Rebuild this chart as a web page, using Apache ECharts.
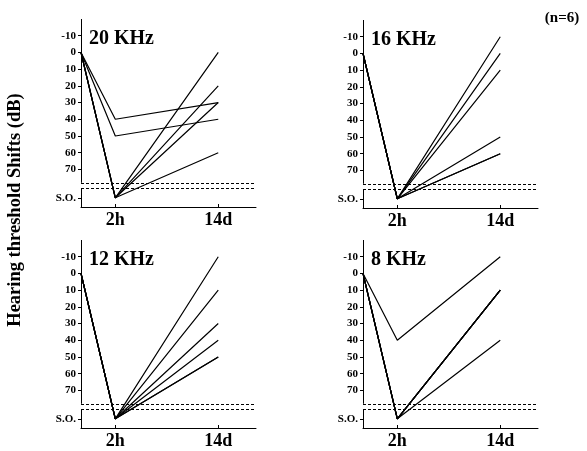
<!DOCTYPE html>
<html lang="en">
<head>
<meta charset="UTF-8">
<title>Hearing threshold shifts</title>
<script src="https://cdn.jsdelivr.net/npm/echarts@6/dist/echarts.min.js"></script>
<style>
  html, body { margin: 0; padding: 0; background: #fff; }
  #chart { width: 587px; height: 451px; }
</style>
</head>
<body>
<div id="chart"></div>
<script>
// S.O. = value used for "scale out" (off the scale)
var SO = 87;

var panelTitles = ['20 KHz', '16 KHz', '12 KHz', '8 KHz'];

// x positions of the three time points: before, 2h, 14d
var timePoints = [0, 1, 4];
var xTickValues = [1, 4];
var xTickLabels = ['2h', '14d'];

var yTickValues = [-10, 0, 10, 20, 30, 40, 50, 60, 70, SO];
var yTickLabels = ['-10', '0', '10', '20', '30', '40', '50', '60', '70', 'S.O.'];

// dashed break lines
var breakLines = [78, 81.5];

// per panel: value before, at 2h and at 14d for the 6 animals
var before = [0, 0, 0, 0, 0, 0];
var at2h_20 = [40, 50, SO, SO, SO, SO];
var at14d_20 = [30, 40, 0, 20, 30, 60];
var at2h_16 = [SO, SO, SO, SO, SO, SO];
var at14d_16 = [-10, 0, 10, 50, 60, 60];
var at2h_12 = [SO, SO, SO, SO, SO, SO];
var at14d_12 = [-10, 10, 30, 40, 50, 50];
var at2h_8 = [40, SO, SO, SO, SO, SO];
var at14d_8 = [-10, 10, 10, 10, 10, 40];

var panel2h = [at2h_20, at2h_16, at2h_12, at2h_8];
var panel14d = [at14d_20, at14d_16, at14d_12, at14d_8];

var FONT = '"Liberation Serif", "Times New Roman", serif';
var grids = [
    { left: 81, top: 19, width: 175, height: 188 },
    { left: 363, top: 20, width: 175, height: 188 },
    { left: 81, top: 240, width: 175, height: 188 },
    { left: 363, top: 240, width: 175, height: 188 }
];

var xAxes = [], yAxes = [], series = [], titles = [];

grids.forEach(function (g, i) {
    xAxes.push({
        type: 'value', gridIndex: i, min: 0, max: 5.1, position: 'bottom',
        splitLine: { show: false },
        axisLine: { onZero: false, lineStyle: { color: '#000', width: 1 } },
        axisTick: { customValues: xTickValues, inside: true, length: 3, lineStyle: { color: '#000' } },
        axisLabel: {
            customValues: xTickValues,
            formatter: function (v) { return xTickLabels[xTickValues.indexOf(v)]; },
            color: '#000', fontFamily: FONT, fontSize: 18, fontWeight: 'bold', margin: 4
        }
    });
    yAxes.push({
        type: 'value', gridIndex: i, inverse: true, min: -20, max: 92.5,
        splitLine: { show: false },
        axisLine: { show: false },
        axisTick: { customValues: yTickValues, length: 3, lineStyle: { color: '#000' } },
        axisLabel: {
            customValues: yTickValues,
            formatter: function (v) { return yTickLabels[yTickValues.indexOf(v)]; },
            color: '#000', fontFamily: FONT, fontSize: 11, fontWeight: 'bold', margin: 5
        }
    });
    titles.push({
        text: panelTitles[i], left: g.left + 3, top: g.top + 5,
        textStyle: { fontFamily: FONT, fontSize: 20, fontWeight: 'bold', color: '#000' }
    });

    for (var k = 0; k < 6; k++) {
        var s = {
            type: 'line', xAxisIndex: i, yAxisIndex: i,
            data: [
                [timePoints[0], before[k]],
                [timePoints[1], panel2h[i][k]],
                [timePoints[2], panel14d[i][k]]
            ],
            symbol: 'none', silent: true,
            lineStyle: { color: '#000', width: 1.2 }
        };
        if (k === 0) {
            s.markLine = {
                symbol: 'none', silent: true, label: { show: false },
                data: [
                    { yAxis: breakLines[0], lineStyle: { type: [3, 2], color: '#000', width: 1 } },
                    { yAxis: breakLines[1], lineStyle: { type: [3, 2], color: '#000', width: 1 } },
                    [{ coord: [0, -20] }, { coord: [0, breakLines[0]], lineStyle: { type: 'solid', color: '#000', width: 1 } }],
                    [{ coord: [0, breakLines[1]] }, { coord: [0, 92.5], lineStyle: { type: 'solid', color: '#000', width: 1 } }]
                ]
            };
        }
        series.push(s);
    }
});

var chart = echarts.init(document.getElementById('chart'));
chart.setOption({
    animation: false,
    backgroundColor: '#fff',
    title: titles,
    grid: grids,
    xAxis: xAxes,
    yAxis: yAxes,
    series: series,
    graphic: [
        {
            type: 'text', x: 15, y: 210, rotation: Math.PI / 2,
            style: {
                text: 'Hearing threshold Shifts (dB)', fill: '#000',
                font: 'bold 18.5px ' + FONT, align: 'center', verticalAlign: 'middle'
            }
        },
        {
            type: 'text', x: 562, y: 18,
            style: {
                text: '(n=6)', fill: '#000',
                font: 'bold 15px ' + FONT, align: 'center', verticalAlign: 'middle'
            }
        }
    ]
});
</script>
</body>
</html>
